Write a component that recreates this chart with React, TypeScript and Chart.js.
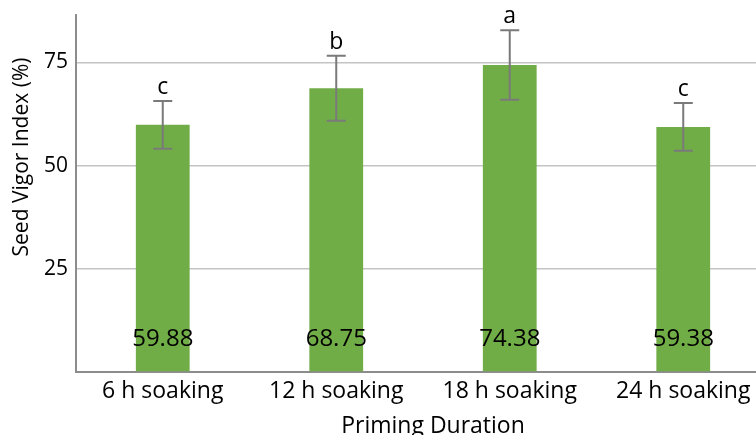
import React, { useEffect, useRef } from "react";
import { Chart, registerables } from "chart.js";

Chart.register(...registerables);

const categories = ["6 h soaking", "12 h soaking", "18 h soaking", "24 h soaking"];
const vigorValues = [59.88, 68.75, 74.38, 59.38];
const errorValues = [5.8, 7.9, 8.4, 5.8];
const letterLabels = ["c", "b", "a", "c"];
const yTickValues = [0, 25, 50, 75];
const yTitle = "Seed Vigor Index (%)";
const xTitle = "Priming Duration";

const FONT = "'Open Sans', sans-serif";

const overlayPlugin = {
  id: "overlay",
  afterDatasetsDraw(chart: any) {
    const ctx = chart.ctx;
    const meta = chart.getDatasetMeta(0);
    const ys = chart.scales.y;
    ctx.save();
    meta.data.forEach((bar: any, i: number) => {
      const x = bar.x;
      const v = vigorValues[i];
      const e = errorValues[i];
      const yT = ys.getPixelForValue(v + e);
      const yB = ys.getPixelForValue(v - e);
      ctx.strokeStyle = "#7a7a7a";
      ctx.lineWidth = 2;
      ctx.beginPath();
      ctx.moveTo(x, yT);
      ctx.lineTo(x, yB);
      ctx.moveTo(x - 9.5, yT);
      ctx.lineTo(x + 9.5, yT);
      ctx.moveTo(x - 9.5, yB);
      ctx.lineTo(x + 9.5, yB);
      ctx.stroke();

      ctx.fillStyle = "#000";
      ctx.textAlign = "center";
      ctx.textBaseline = "alphabetic";
      ctx.font = `23px ${FONT}`;
      ctx.fillText(letterLabels[i], x, yT - 7);

      ctx.font = `24px ${FONT}`;
      ctx.textBaseline = "middle";
      ctx.fillText(vigorValues[i].toFixed(2), x, ys.getPixelForValue(0) - 33);
    });
    ctx.restore();
  },
  afterDraw(chart: any) {
    const ctx = chart.ctx;
    ctx.save();
    ctx.fillStyle = "#000";
    ctx.font = `21px ${FONT}`;
    ctx.textAlign = "center";
    ctx.textBaseline = "middle";
    ctx.translate(22, 157);
    ctx.rotate(-Math.PI / 2);
    ctx.fillText(yTitle, 0, 0);
    ctx.restore();

    ctx.save();
    ctx.fillStyle = "#000";
    ctx.font = `23px ${FONT}`;
    ctx.textAlign = "center";
    ctx.textBaseline = "middle";
    ctx.fillText(xTitle, 433, 426);
    ctx.restore();
  },
};

export default function App() {
  const canvasRef = useRef<HTMLCanvasElement | null>(null);

  useEffect(() => {
    if (!canvasRef.current) return;
    const chart = new Chart(canvasRef.current, {
      type: "bar",
      data: {
        labels: categories,
        datasets: [
          {
            data: vigorValues,
            backgroundColor: "#70ad47",
            borderWidth: 0,
            barPercentage: 0.31,
            categoryPercentage: 1,
          },
        ],
      },
      options: {
        responsive: false,
        animation: false,
        devicePixelRatio: 1,
        layout: { padding: { top: 15, right: 20, left: 0, bottom: 0 } },
        plugins: {
          legend: { display: false },
          tooltip: { enabled: false },
          title: { display: false },
        },
        scales: {
          x: {
            grid: { display: false, drawTicks: false },
            border: { display: true, color: "#8c8c8c", width: 2 },
            ticks: {
              color: "#000",
              font: { family: FONT, size: 23 },
              padding: 6,
              maxRotation: 0,
              autoSkip: false,
            },
            afterFit(scale: any) {
              scale.height = 63;
              scale.paddingLeft = 0;
              scale.paddingRight = 0;
            },
          },
          y: {
            min: 0,
            max: 86.5,
            afterBuildTicks(scale: any) {
              scale.ticks = yTickValues.map((value) => ({ value }));
            },
            grid: {
              drawTicks: false,
              color: (c: any) => (c.tick && c.tick.value === 0 ? "rgba(0,0,0,0)" : "#c4c4c4"),
              lineWidth: 1.5,
            },
            border: { display: true, color: "#8c8c8c", width: 2 },
            ticks: {
              color: "#000",
              font: { family: FONT, size: 21 },
              padding: 8,
              callback: (v: any) => (v === 0 ? "" : String(v)),
            },
            afterFit(scale: any) {
              scale.width = 76;
              scale.paddingTop = 0;
              scale.paddingBottom = 0;
            },
          },
        },
      },
      plugins: [overlayPlugin],
    });
    return () => chart.destroy();
  }, []);

  return (
    <div
      style={{
        position: "fixed",
        left: 0,
        top: 0,
        width: 756,
        height: 435,
        overflow: "hidden",
        background: "#fff",
      }}
    >
      <canvas ref={canvasRef} width={790} height={435} style={{ display: "block" }} />
    </div>
  );
}
